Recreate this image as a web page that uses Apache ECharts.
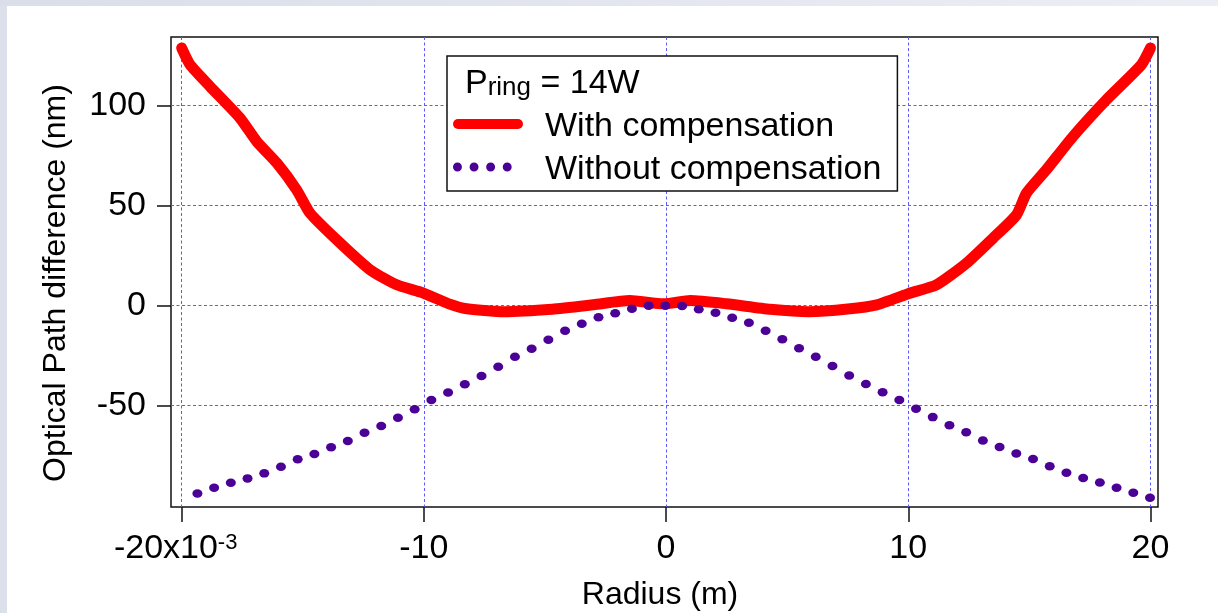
<!DOCTYPE html>
<html><head><meta charset="utf-8">
<script src="https://cdn.jsdelivr.net/npm/echarts@6/dist/echarts.min.js"></script>
<style>
html,body{margin:0;padding:0;width:1218px;height:613px;overflow:hidden;background:#dbe0ea;}
#topstrip{position:absolute;left:0;top:0;width:1218px;height:6px;background:linear-gradient(to right,#d9dee9,#eceef4);}
#panel{position:absolute;left:7px;top:6px;width:1211px;height:607px;background:#fff;}
#chart{position:absolute;left:0;top:0;width:1218px;height:613px;}
</style></head><body>
<div id="topstrip"></div><div id="panel"></div><div id="chart"></div>
<script>
// ---- data ----
const xTicks = [-20, -10, 0, 10, 20];
const yTicks = [-50, 0, 50, 100];
const seriesNames = ['With compensation', 'Without compensation'];
const legendTitle = ['P', 'ring', ' = 14W'];
const xTitle = 'Radius (m)';
const yTitle = 'Optical Path difference (nm)';

const withCompX = [-20.0,-19.65,-18.83,-17.59,-16.9,-16.07,-15.25,-14.7,-13.6,-12.22,-11.12,-10.05,-8.9,-8.3,-6.7,-4.7,-3.0,-1.5,-0.1,1.0,2.5,4.3,5.9,7.5,8.7,10.06,11.16,12.4,13.5,14.47,14.88,15.7,16.8,18.18,19.62,20.0];
const withCompY = [128.6,120.2,109.4,93.6,81.9,71.1,57.7,46.1,32.8,17.8,10.3,6.3,0.5,-1.5,-3.1,-1.9,0.3,2.4,0.8,2.4,0.8,-1.9,-3.1,-1.8,0.3,6.1,10.25,21.1,33.6,45.25,56.1,67.75,84.4,102.75,120.2,128.6];

const withoutCompX = [-19.35,-18.66,-17.97,-17.28,-16.59,-15.90,-15.21,-14.52,-13.83,-13.14,-12.45,-11.76,-11.07,-10.38,-9.69,-9.00,-8.31,-7.62,-6.93,-6.24,-5.55,-4.86,-4.17,-3.48,-2.79,-2.10,-1.41,-0.72,-0.03,0.66,1.35,2.04,2.73,3.42,4.11,4.80,5.49,6.18,6.87,7.56,8.25,8.94,9.63,10.32,11.01,11.70,12.39,13.08,13.77,14.46,15.15,15.84,16.53,17.22,17.91,18.60,19.29,19.98];
const withoutCompY = [-93.9,-91.1,-88.6,-86.4,-83.9,-80.6,-76.9,-74.2,-70.9,-67.7,-63.6,-60.2,-56.1,-51.9,-47.3,-43.5,-39.4,-35.2,-30.6,-25.6,-21.7,-17.2,-12.7,-9.2,-5.9,-3.9,-1.7,-0.1,-0.1,-0.3,-1.9,-3.6,-6.1,-8.6,-12.7,-16.9,-21.4,-25.6,-30.3,-35.0,-39.2,-43.4,-47.2,-51.6,-55.8,-59.9,-63.4,-67.5,-70.7,-74.0,-76.7,-80.3,-83.6,-86.2,-88.5,-91.1,-93.6,-96.1];

// ---- chart ----
const FONT = '"Liberation Sans", Arial, sans-serif';
const GRIDCOLOR = '#5a5aff';
const zip = (xs, ys) => xs.map((x, i) => [x, ys[i]]);
const capsuleIcon = 'path://M0,0M70,16M5,0L65,0A5,5,0,0,1,65,10L5,10A5,5,0,0,1,5,0Z';
const dotsIcon = 'path://M0,0M70,16' +
  'M-0.5,5A4.5,4.5,0,1,1,8.5,5A4.5,4.5,0,1,1,-0.5,5Z' +
  'M16.2,5A4.5,4.5,0,1,1,25.2,5A4.5,4.5,0,1,1,16.2,5Z' +
  'M32.9,5A4.5,4.5,0,1,1,41.9,5A4.5,4.5,0,1,1,32.9,5Z' +
  'M49.6,5A4.5,4.5,0,1,1,58.6,5A4.5,4.5,0,1,1,49.6,5Z';

const chart = echarts.init(document.getElementById('chart'), null, {renderer: 'canvas'});
chart.setOption({
  animation: false,
  backgroundColor: 'transparent',
  grid: {left: 171, top: 37, right: 60, bottom: 106, show: true, borderColor: '#111', borderWidth: 1.5, containLabel: false},
  xAxis: {
    type: 'value', min: -20.44, max: 20.31,
    axisLine: {show: false, onZero: false},
    axisTick: {show: true, customValues: xTicks, length: 15, lineStyle: {color: '#111', width: 1.5}},
    axisLabel: {
      customValues: xTicks, margin: 25, color: '#000', fontFamily: FONT, fontSize: 34,
      formatter: v => v === -20 ? '{m|-20x10}{e|-3}' : '{m|' + v + '}',
      rich: {m: {fontSize: 34, fontFamily: FONT, color: '#000'},
             e: {fontSize: 22, fontFamily: FONT, color: '#000', verticalAlign: 'top', padding: [0, 12, 0, 0]}}
    },
    splitLine: {show: true, lineStyle: {color: GRIDCOLOR, type: [3, 2.5], width: 1, opacity: 1}}
  },
  yAxis: {
    type: 'value', min: -100.7, max: 134.1,
    axisLine: {show: false, onZero: false},
    axisTick: {show: true, customValues: yTicks, length: 14, lineStyle: {color: '#111', width: 1.5}},
    axisLabel: {customValues: yTicks, margin: 25, color: '#000', fontFamily: FONT, fontSize: 34},
    splitLine: {show: true, lineStyle: {color: GRIDCOLOR, type: [3, 2.5], width: 1, opacity: 1}}
  },
  legend: {
    orient: 'vertical', left: 447, top: 56,
    padding: [54, 16, 4, 6],
    itemWidth: 70, itemHeight: 16, itemGap: 9,
    borderColor: '#111', borderWidth: 1.5, backgroundColor: '#fff',
    textStyle: {fontSize: 34, color: '#000', fontFamily: FONT, padding: [0, 0, 0, 17]},
    data: [{name: seriesNames[0], icon: capsuleIcon}, {name: seriesNames[1], icon: dotsIcon}]
  },
  graphic: [
    {type: 'text', z: 100, x: 465, y: 84,
     style: {text: '{p|' + legendTitle[0] + '}{s|' + legendTitle[1] + '}{p|' + legendTitle[2] + '}',
             verticalAlign: 'middle', align: 'left',
             rich: {p: {fontSize: 34, fontFamily: FONT, fill: '#000', color: '#000'},
                    s: {fontSize: 26, fontFamily: FONT, fill: '#000', color: '#000', verticalAlign: 'bottom'}}}},
    {type: 'text', z: 100, x: 660, y: 595,
     style: {text: xTitle, fontSize: 32, fontFamily: FONT, fill: '#000', align: 'center', verticalAlign: 'middle'}},
    {type: 'text', z: 100, x: 56, y: 283, rotation: Math.PI / 2,
     style: {text: yTitle, fontSize: 32, fontFamily: FONT, fill: '#000', align: 'center', verticalAlign: 'middle'}}
  ],
  series: [
    {name: seriesNames[0], type: 'line', data: zip(withCompX, withCompY), smooth: 0.2,
     symbol: 'none', color: '#ff0000', z: 2,
     lineStyle: {color: '#ff0000', width: 11, cap: 'round', join: 'round'}},
    {name: seriesNames[1], type: 'scatter', data: zip(withoutCompX, withoutCompY),
     symbol: 'circle', symbolSize: [10, 8.5], color: '#4b0096', z: 3,
     itemStyle: {color: '#4b0096', opacity: 1}}
  ]
});
</script>
</body></html>
